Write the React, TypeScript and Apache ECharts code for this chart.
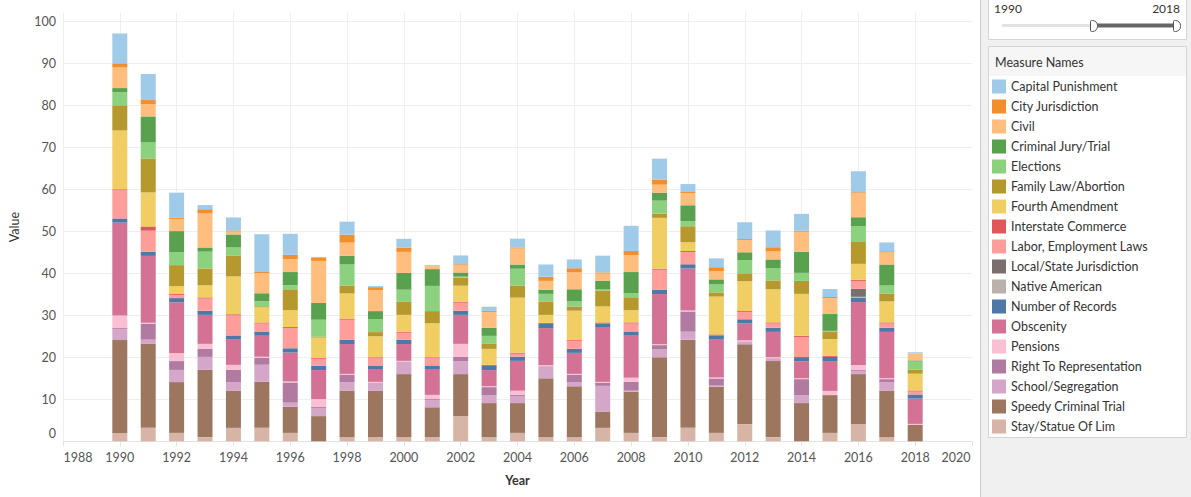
import React, { useEffect, useRef } from "react";
import * as echarts from "echarts";

const years = [1990, 1991, 1992, 1993, 1994, 1995, 1996, 1997, 1998, 1999, 2000, 2001, 2002, 2003, 2004, 2005, 2006, 2007, 2008, 2009, 2010, 2011, 2012, 2013, 2014, 2015, 2016, 2017, 2018];
// axis runs 1988..2020 (ticks every 2 years)
const axisYears = ["1988", "1989", "1990", "1991", "1992", "1993", "1994", "1995", "1996", "1997", "1998", "1999", "2000", "2001", "2002", "2003", "2004", "2005", "2006", "2007", "2008", "2009", "2010", "2011", "2012", "2013", "2014", "2015", "2016", "2017", "2018", "2019", "2020"];

const capitalPunishment = [7.1, 6.2, 6.0, 1.0, 3.1, 9.0, 5.0, 0.25, 3.1, 0.25, 2.1, 0.25, 2.1, 1.0, 2.1, 2.9, 2.1, 4.0, 6.0, 5.0, 1.9, 2.1, 4.0, 4.0, 4.0, 1.9, 5.0, 2.1, 0.25];
const cityJurisdiction = [1.0, 1.0, 0.25, 1.0, 0.25, 0.25, 1.0, 0.7, 1.9, 0.7, 1.0, 0, 0.25, 0.25, 0.25, 1.0, 1.0, 0.25, 1.0, 1.2, 0.25, 1.0, 0.25, 1.0, 0.25, 0.25, 0.25, 0.25, 0];
const civil = [4.9, 2.9, 2.9, 8.1, 0.7, 4.8, 3.1, 10.0, 3.1, 5.0, 5.0, 0.7, 1.7, 3.8, 3.8, 2.1, 4.0, 1.7, 4.0, 1.9, 2.9, 1.9, 2.9, 1.9, 4.8, 3.8, 5.7, 2.9, 1.7];
const criminalJury = [1.0, 6.2, 5.0, 1.0, 3.1, 1.9, 3.1, 4.0, 2.1, 1.9, 4.0, 4.0, 1.0, 1.9, 1.0, 1.0, 2.9, 2.1, 5.0, 1.9, 3.8, 1.2, 1.9, 2.1, 5.0, 4.0, 2.1, 5.0, 0.25];
const elections = [3.1, 3.8, 3.1, 4.0, 1.9, 1.2, 1.0, 4.0, 5.0, 3.1, 2.9, 6.0, 0.25, 1.9, 4.0, 1.9, 1.2, 0.25, 1.0, 3.1, 1.2, 1.9, 3.1, 2.9, 1.9, 0.25, 3.8, 1.9, 1.9];
const familyLaw = [6.0, 8.1, 5.0, 4.0, 5.0, 0.25, 5.0, 0.25, 1.9, 1.0, 3.1, 2.9, 1.9, 1.2, 2.9, 3.1, 1.0, 3.8, 3.1, 1.0, 3.8, 1.0, 1.9, 2.1, 3.1, 1.7, 5.2, 1.9, 1.0];
const fourthAmendment = [14.0, 8.1, 1.9, 2.9, 9.0, 3.6, 4.0, 4.8, 6.0, 5.0, 4.0, 8.1, 3.8, 3.8, 13.1, 1.9, 6.9, 3.8, 2.9, 12.1, 2.1, 9.0, 7.1, 7.9, 10.0, 4.0, 3.8, 5.0, 4.0];
const interstateCommerce = [0.25, 1.0, 0.25, 0.25, 0.25, 0.25, 0.25, 0.25, 0.25, 0.25, 0.25, 0.25, 0.25, 0.25, 0.25, 0.25, 0.25, 0.25, 0.25, 0.25, 0.25, 0.25, 0.25, 0.25, 0.25, 0.25, 0.25, 0.25, 0.25];
const laborLaws = [6.7, 5.0, 0.7, 2.9, 4.8, 1.9, 4.8, 1.7, 4.8, 1.7, 1.7, 1.7, 1.9, 0, 0.7, 0, 1.9, 0, 1.9, 4.8, 2.9, 0, 1.7, 1.0, 4.8, 0, 1.9, 1.0, 0.7];
const localState = [0, 0, 0, 0, 0, 0, 0, 0, 0, 0, 0, 0, 0, 0, 0, 0, 0, 0, 0, 0, 0, 0, 0, 0, 0, 0, 1.9, 0, 0];
const nativeAmerican = [0, 0, 0, 0, 0, 0, 0, 0, 0, 0, 0, 0, 0, 0, 0, 0, 0, 0, 0, 0, 0, 0, 0, 0, 0, 0, 0.25, 0, 0];
const numberOfRecords = [1, 1, 1, 1, 1, 1, 1, 1, 1, 1, 1, 1, 1, 1, 1, 1, 1, 1, 1, 1, 1, 1, 1, 1, 1, 1, 1, 1, 1];
const obscenity = [22.1, 15.9, 12.1, 6.9, 6.0, 5.0, 6.9, 6.9, 7.1, 2.9, 4.0, 6.0, 6.9, 3.8, 7.1, 8.8, 5.0, 12.9, 10.0, 11.9, 10.0, 9.0, 4.0, 6.0, 4.0, 7.1, 15.0, 11.0, 6.0];
const pensions = [3.0, 0.25, 1.9, 1.2, 1.2, 0.25, 0.25, 1.9, 0.25, 0.25, 0.25, 1.0, 3.1, 0.25, 1.0, 0.25, 0.25, 0.25, 1.0, 0.25, 0.25, 0.25, 0.25, 0.25, 0.25, 1.0, 1.2, 0.25, 0.25];
const rightToRep = [0.25, 3.8, 2.1, 1.9, 2.9, 1.7, 4.8, 0.25, 1.7, 0, 0, 0.25, 1.0, 1.9, 0.25, 0, 1.7, 0.7, 2.1, 1.0, 4.8, 1.7, 0, 0, 3.8, 0, 0.25, 0.7, 0];
const schoolSeg = [2.6, 1.0, 2.9, 3.1, 2.1, 4.0, 1.0, 1.9, 2.1, 1.9, 2.9, 1.7, 3.1, 1.9, 1.7, 2.9, 1.0, 6.2, 0.25, 1.9, 1.9, 0.25, 0.7, 0.7, 1.9, 0, 0.7, 2.1, 0];
const speedyTrial = [22.1, 20.0, 12.1, 16.0, 8.8, 11.0, 6.2, 6.0, 11.0, 11.0, 15.0, 7.1, 10.0, 8.1, 7.1, 14.0, 12.1, 3.8, 9.8, 19.0, 21.0, 11.0, 19.0, 18.1, 9.1, 9.0, 11.9, 11.0, 3.9];
const stayStatue = [2.0, 3.2, 2.0, 1.0, 3.2, 3.2, 2.0, 0, 1.0, 1.0, 1.0, 1.0, 6.0, 1.0, 2.0, 1.0, 1.0, 3.2, 2.0, 1.0, 3.2, 2.0, 4.1, 1.0, 0, 2.0, 4.1, 1.0, 0];

// bottom of stack first
const seriesNames = [
  "Stay/Statue Of Lim",
  "Speedy Criminal Trial",
  "School/Segregation",
  "Right To Representation",
  "Pensions",
  "Obscenity",
  "Number of Records",
  "Native American",
  "Local/State Jurisdiction",
  "Labor, Employment Laws",
  "Interstate Commerce",
  "Fourth Amendment",
  "Family Law/Abortion",
  "Elections",
  "Criminal Jury/Trial",
  "Civil",
  "City Jurisdiction",
  "Capital Punishment",
];
const seriesValues = [
  stayStatue, speedyTrial, schoolSeg, rightToRep, pensions, obscenity, numberOfRecords,
  nativeAmerican, localState, laborLaws, interstateCommerce, fourthAmendment, familyLaw,
  elections, criminalJury, civil, cityJurisdiction, capitalPunishment,
];
const seriesColors = [
  "#D7B5A6", "#9D7660", "#D4A6C8", "#B07AA1", "#FABFD2", "#D37295", "#4E79A7",
  "#BAB0AC", "#79706E", "#FF9D9A", "#E15759", "#F1CE63", "#B6992D",
  "#8CD17D", "#59A14F", "#FFBE7D", "#F28E2B", "#A0CBE8",
];

const FONT = 'Lato, "Noto Sans", sans-serif';

export default function App() {
  const ref = useRef<HTMLDivElement>(null);
  useEffect(() => {
    const chart = echarts.init(ref.current!, null, { renderer: "svg" });
    const series = seriesNames.map((name, k) => ({
      name,
      type: "bar",
      stack: "total",
      barWidth: 15,
      data: axisYears.map((label) => {
        const i = years.indexOf(Number(label));
        return i >= 0 ? seriesValues[k][i] : 0;
      }),
      itemStyle: { color: seriesColors[k] },
      emphasis: { disabled: true },
    }));
    const labelStyle = { fontSize: 12.5, color: "#555555", fontFamily: FONT };
    const option = {
      animation: false,
      backgroundColor: "#ffffff",
      textStyle: { fontFamily: FONT },
      grid: { left: 55.3, right: 219, top: 12.9, bottom: 55.7, containLabel: false },
      xAxis: {
        type: "category",
        data: axisYears,
        boundaryGap: false,
        name: "Year",
        nameLocation: "middle",
        nameGap: 33,
        nameTextStyle: { fontSize: 12.5, color: "#333333", fontWeight: "bold", fontFamily: FONT },
        axisLine: { show: true, lineStyle: { color: "#e3e3e3" } },
        axisTick: { show: true, length: 5, interval: 1, lineStyle: { color: "#e3e3e3" } },
        axisLabel: {
          ...labelStyle,
          margin: 10,
          interval: 1,
          formatter: (v: string) => (v === "1988" ? "{l|1988}" : v === "2020" ? "{r|2020}" : v),
          rich: {
            l: { ...labelStyle, padding: [0, 0, 0, 30] },
            r: { ...labelStyle, padding: [0, 32, 0, 0] },
          },
        },
        splitLine: { show: true, interval: 1, showMinLine: true, showMaxLine: false, lineStyle: { color: "#eeeeee" } },
      },
      yAxis: {
        type: "value",
        min: 0,
        max: 102,
        interval: 10,
        name: "Value",
        nameLocation: "middle",
        nameGap: 42,
        nameTextStyle: { fontSize: 12.5, color: "#333333", fontFamily: FONT },
        axisLine: { show: false },
        axisTick: { show: false },
        axisLabel: {
          ...labelStyle,
          margin: 7,
          formatter: (v: number) => (v > 100 ? "" : v === 0 ? "{z|0}" : String(v)),
          rich: { z: { ...labelStyle, padding: [0, 0, 16, 0] } },
        },
        splitLine: { show: true, showMinLine: false, showMaxLine: false, lineStyle: { color: "#eeeeee" } },
      },
      legend: {
        show: true,
        orient: "vertical",
        left: 992,
        top: 79.5,
        padding: 0,
        itemWidth: 14,
        itemHeight: 14,
        itemGap: 6,
        icon: "rect",
        selectedMode: false,
        data: [...seriesNames].reverse(),
        textStyle: { fontSize: 12.5, color: "#333333", fontFamily: FONT },
        z: 10,
      },
      graphic: [
        { type: "rect", z: 1, shape: { x: 980, y: 0, width: 211, height: 497 }, style: { fill: "#f0f0f0" } },
        { type: "line", z: 2, shape: { x1: 980.5, y1: 0, x2: 980.5, y2: 497 }, style: { stroke: "#d0d0d0", lineWidth: 1 } },
        { type: "rect", z: 2, shape: { x: 988.5, y: -1, width: 198, height: 40.5 }, style: { fill: "#ffffff", stroke: "#d4d4d4", lineWidth: 1 } },
        { type: "text", z: 3, style: { x: 994, y: 8, text: "1990", fontSize: 12, fill: "#333333", fontFamily: FONT, textVerticalAlign: "middle", textAlign: "left" } },
        { type: "text", z: 3, style: { x: 1180, y: 8, text: "2018", fontSize: 12, fill: "#333333", fontFamily: FONT, textVerticalAlign: "middle", textAlign: "right" } },
        { type: "rect", z: 3, shape: { x: 1002, y: 24, width: 92, height: 3 }, style: { fill: "#e3e3e3" } },
        { type: "rect", z: 3, shape: { x: 1093, y: 23.5, width: 84, height: 4 }, style: { fill: "#666666" } },
        { type: "rect", z: 4, shape: { x: 1090.5, y: 20.5, width: 7, height: 11, r: [1, 5, 5, 1] }, style: { fill: "#ffffff", stroke: "#555555", lineWidth: 1 } },
        { type: "rect", z: 4, shape: { x: 1173.5, y: 20.5, width: 7, height: 11, r: [1, 5, 5, 1] }, style: { fill: "#ffffff", stroke: "#555555", lineWidth: 1 } },
        { type: "rect", z: 2, shape: { x: 988.5, y: 46.5, width: 198, height: 391 }, style: { fill: "#ffffff", stroke: "#d4d4d4", lineWidth: 1 } },
        { type: "rect", z: 3, shape: { x: 989, y: 47, width: 197, height: 29 }, style: { fill: "#f6f6f6" } },
        { type: "text", z: 4, style: { x: 995, y: 62, text: "Measure Names", fontSize: 12.5, fill: "#333333", fontFamily: FONT, textVerticalAlign: "middle", textAlign: "left" } },
      ],
      series,
    };
    chart.setOption(option as any);
    return () => chart.dispose();
  }, []);
  return (
    <div
      ref={ref}
      style={{ position: "fixed", left: 0, top: 0, width: 1191, height: 497, background: "#ffffff" }}
    />
  );
}
